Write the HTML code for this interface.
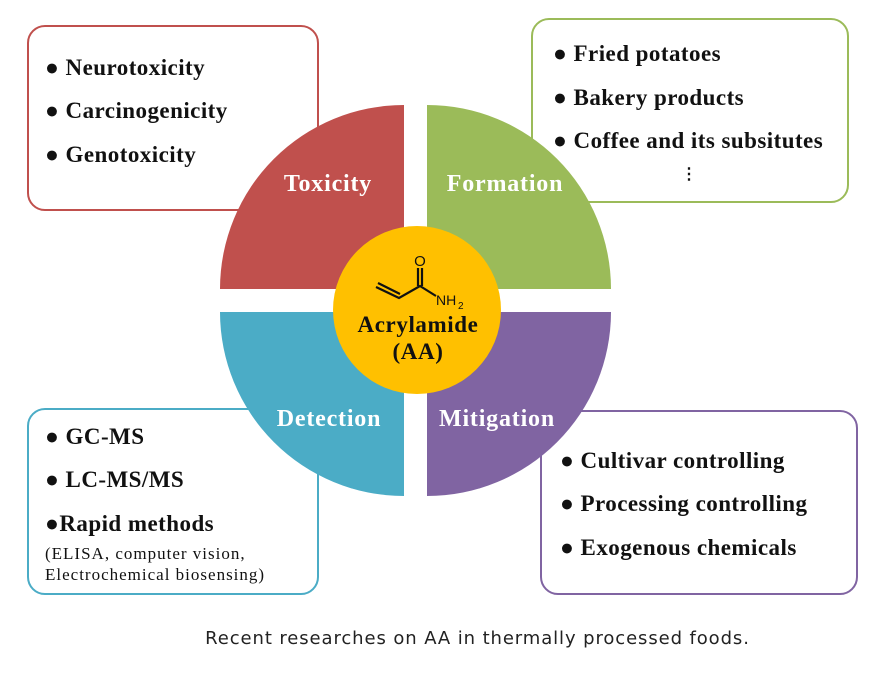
<!DOCTYPE html>
<html><head><meta charset="utf-8"><style>
body{margin:0;background:#fff;width:869px;height:676px;overflow:hidden;position:relative;font-family:"Liberation Serif",serif}
.box{position:absolute;border:2.5px solid;border-radius:18px;background:#fff;box-sizing:border-box}
.t{position:absolute;font-weight:bold;font-size:23px;letter-spacing:0.45px;color:#111;white-space:nowrap}
.cap{position:absolute;left:43px;width:869px;top:628px;text-align:center;font-family:"DejaVu Sans","Liberation Sans",sans-serif;font-size:18px;letter-spacing:0.9px;color:#222}
</style></head><body>
<div class="box" style="left:27px;top:25px;width:292px;height:186px;border-color:#c0504d"></div>
<div class="box" style="left:531px;top:18px;width:318px;height:185px;border-color:#9bbb59"></div>
<div class="box" style="left:27px;top:408px;width:292px;height:187px;border-color:#4bacc6"></div>
<div class="box" style="left:540px;top:410px;width:318px;height:185px;border-color:#8064a2"></div>
<div class="t" style="left:45px;top:55px">● Neurotoxicity</div>
<div class="t" style="left:45px;top:98px">● Carcinogenicity</div>
<div class="t" style="left:45px;top:142px">● Genotoxicity</div>
<div class="t" style="left:553px;top:41px">● Fried potatoes</div>
<div class="t" style="left:553px;top:85px">● Bakery products</div>
<div class="t" style="left:553px;top:128px">● Coffee and its subsitutes</div>
<div class="t" style="left:681px;top:164px;font-size:16px">⋮</div>
<div class="t" style="left:45px;top:424px">● GC-MS</div>
<div class="t" style="left:45px;top:467px">● LC-MS/MS</div>
<div class="t" style="left:45px;top:511px">●Rapid methods</div>
<div class="t" style="left:45px;top:543px;font-weight:normal;font-size:17px;letter-spacing:1px;line-height:21px">(ELISA, computer vision,<br>Electrochemical biosensing)</div>
<div class="t" style="left:560px;top:448px">● Cultivar controlling</div>
<div class="t" style="left:560px;top:491px">● Processing controlling</div>
<div class="t" style="left:560px;top:535px">● Exogenous chemicals</div>
<svg style="position:absolute;left:0;top:0" width="869" height="676">
<path d="M404,289 L220,289 A184,184 0 0 1 404,105 Z" fill="#c0504d"/>
<path d="M427,289 L427,105 A184,184 0 0 1 611,289 Z" fill="#9bbb59"/>
<path d="M404,312 L404,496 A184,184 0 0 1 220,312 Z" fill="#4bacc6"/>
<path d="M427,312 L611,312 A184,184 0 0 1 427,496 Z" fill="#8064a2"/>
<circle cx="417" cy="310" r="84" fill="#ffc000"/>
<g font-family="Liberation Serif,serif" font-weight="bold" font-size="24" letter-spacing="0.8" fill="#fff" text-anchor="middle">
<text x="328" y="191">Toxicity</text>
<text x="505" y="191">Formation</text>
<text x="329" y="426">Detection</text>
<text x="497" y="426">Mitigation</text>
</g>
<g stroke="#111" stroke-width="2.2" fill="none">
<path d="M376,287 L399,298 L420,286 L436,296"/>
<path d="M378,283 L400,294"/>
<path d="M418,286 L418,268 M422,286 L422,268"/>
</g>
<g font-family="Liberation Sans,sans-serif" fill="#111">
<text x="420" y="266" font-size="15" text-anchor="middle">O</text>
<text x="436" y="305" font-size="14">NH</text>
<text x="458" y="309" font-size="10">2</text>
</g>
<g font-family="Liberation Serif,serif" font-weight="bold" font-size="23" letter-spacing="0.6" fill="#111" text-anchor="middle">
<text x="418" y="332">Acrylamide</text>
<text x="418" y="359">(AA)</text>
</g>
</svg>
<div class="cap">Recent researches on AA in thermally processed foods.</div>
</body></html>
